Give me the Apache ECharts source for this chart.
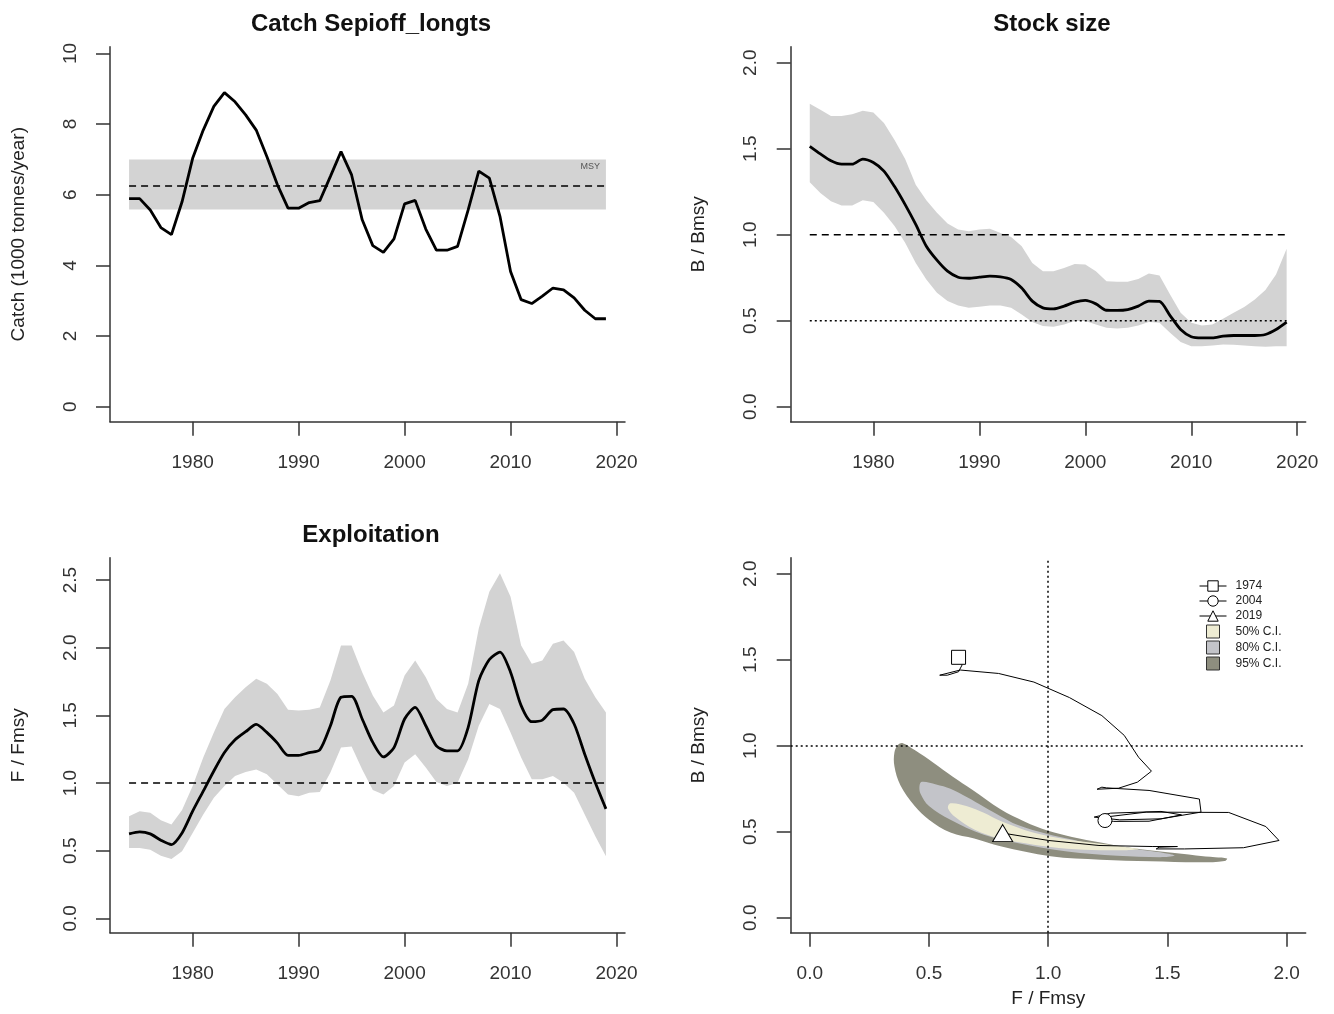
<!DOCTYPE html>
<html><head><meta charset="utf-8">
<script src="https://cdn.jsdelivr.net/npm/echarts@6/dist/echarts.min.js"></script>
<style>html,body{margin:0;padding:0;background:#fff}#c{width:1334px;height:1014px}</style>
</head><body><div id="c"></div>
<script>
const years = [1974,1975,1976,1977,1978,1979,1980,1981,1982,1983,1984,1985,1986,1987,1988,1989,1990,1991,1992,1993,1994,1995,1996,1997,1998,1999,2000,2001,2002,2003,2004,2005,2006,2007,2008,2009,2010,2011,2012,2013,2014,2015,2016,2017,2018,2019];
const catchK = [5.89,5.89,5.57,5.07,4.87,5.80,7.03,7.83,8.50,8.89, 8.63,8.26,7.83,7.08,6.28,5.62,5.62,5.78,5.83,6.52, 7.22,6.56,5.29,4.56,4.37,4.75,5.74,5.84,5.03,4.43, 4.43,4.54,5.57,6.67,6.47,5.39,3.83,3.03,2.92,3.13, 3.36,3.31,3.08,2.73,2.49,2.49];
const msy = 6.25, msyLow = 5.58, msyHigh = 7.0;
const bBmsy = [1.514,1.47,1.43,1.41,1.41,1.44,1.42,1.37,1.28,1.175, 1.06,0.933,0.852,0.788,0.753,0.747,0.753,0.759,0.755,0.74, 0.69,0.614,0.575,0.569,0.585,0.608,0.618,0.598,0.561,0.56, 0.565,0.585,0.614,0.612,0.53,0.449,0.407,0.40,0.40,0.41, 0.414,0.414,0.414,0.42,0.449,0.492];
const bHigh = [1.762,1.727,1.69,1.69,1.70,1.72,1.71,1.65,1.55,1.44, 1.29,1.20,1.127,1.065,1.03,1.02,1.03,1.034,1.01,0.987, 0.933,0.836,0.788,0.788,0.807,0.83,0.827,0.788,0.73,0.726, 0.726,0.743,0.774,0.763,0.652,0.546,0.488,0.472,0.478,0.511, 0.546,0.58,0.623,0.678,0.769,0.918];
const bLow = [1.305,1.243,1.195,1.17,1.17,1.20,1.19,1.127,1.05,0.953, 0.836,0.74,0.662,0.614,0.589,0.575,0.581,0.589,0.589,0.575, 0.536,0.492,0.469,0.465,0.478,0.498,0.498,0.478,0.459,0.455, 0.459,0.472,0.492,0.488,0.43,0.376,0.352,0.352,0.356,0.362, 0.36,0.356,0.352,0.348,0.352,0.352];
const fFmsy = [0.624,0.639,0.624,0.577,0.545,0.631,0.792,0.94,1.089,1.225, 1.319,1.379,1.433,1.374,1.295,1.205,1.205,1.225,1.245,1.423, 1.634,1.641,1.473,1.30,1.193,1.262,1.473,1.559,1.423,1.275, 1.238,1.238,1.411,1.757,1.913,1.968,1.819,1.572,1.453,1.465, 1.542,1.547,1.436,1.213,1.002,0.809];
const fHigh = [0.755,0.792,0.78,0.725,0.693,0.80,0.978,1.188,1.374,1.547, 1.634,1.708,1.77,1.733,1.658,1.542,1.535,1.542,1.559,1.757, 2.017,2.017,1.819,1.646,1.522,1.572,1.795,1.906,1.782,1.621, 1.547,1.522,1.733,2.141,2.413,2.55,2.376,2.017,1.881,1.906, 2.03,2.054,1.968,1.77,1.634,1.522];
const fLow = [0.52,0.52,0.507,0.463,0.438,0.495,0.631,0.767,0.891,0.978, 1.052,1.082,1.10,1.064,0.99,0.916,0.903,0.928,0.933,1.077, 1.262,1.27,1.10,0.948,0.916,0.978,1.151,1.213,1.114,1.007, 0.978,1.002,1.176,1.423,1.584,1.547,1.374,1.188,1.027,1.027, 1.052,1.002,0.928,0.767,0.606,0.458];
const refB = 1.0, refBlim = 0.5, refF = 1.0;
const markerYears = [1974, 2004, 2019];
const ci95F = [0.39,0.44,0.52,0.60,0.68,0.80,0.90,1.00,1.10,1.22,1.35,1.50,1.62,1.70,1.75,1.74,1.64,1.43,1.22,1.01,0.80,0.69,0.59,0.50,0.44,0.38,0.355,0.355,0.37];
const ci95B = [1.015,0.975,0.90,0.82,0.745,0.63,0.56,0.505,0.47,0.437,0.405,0.38,0.362,0.352,0.345,0.33,0.322,0.328,0.337,0.357,0.415,0.46,0.495,0.57,0.65,0.77,0.88,0.96,1.005];
const ci80F = [0.47,0.53,0.59,0.66,0.73,0.80,0.87,1.00,1.10,1.22,1.43,1.51,1.53,1.47,1.29,1.08,0.87,0.73,0.59,0.50,0.465,0.46];
const ci80B = [0.79,0.775,0.75,0.70,0.645,0.59,0.54,0.485,0.455,0.418,0.388,0.37,0.36,0.352,0.36,0.385,0.435,0.483,0.57,0.65,0.72,0.765];
const ci50F = [0.59,0.66,0.73,0.80,0.94,1.08,1.22,1.33,1.38,1.32,1.22,1.08,0.94,0.80,0.69,0.61,0.58];
const ci50B = [0.665,0.648,0.61,0.562,0.494,0.455,0.43,0.41,0.40,0.393,0.393,0.401,0.425,0.459,0.513,0.585,0.635];
const yearTicks = [1980,1990,2000,2010,2020];
const catchTicks = [0,2,4,6,8,10];
const ratioTicks = [0,0.5,1,1.5,2];
const fTicks = [0,0.5,1,1.5,2,2.5];
const kobeTicks = [0,0.5,1,1.5,2];

const FONT = "'Liberation Sans', Arial, Helvetica, sans-serif";
const AX = '#333';
const one = v => v.toFixed(1);

function xAx(gi, min, max, ticks, fmt, name) {
  return {type:'value', gridIndex:gi, min, max, name: name || '', nameLocation:'middle', nameGap:57,
    nameTextStyle:{fontSize:19, color:'#222', fontFamily:FONT},
    axisLine:{show:true, onZero:false, lineStyle:{color:AX, width:1.5}},
    axisTick:{show:true, inside:false, length:14, customValues:ticks, lineStyle:{color:AX, width:1.5}},
    axisLabel:{show:true, margin:32, fontSize:19, color:'#333', fontFamily:FONT, customValues:ticks, formatter:fmt},
    splitLine:{show:false}};
}
function yAx(gi, min, max, ticks, fmt, name) {
  return {type:'value', gridIndex:gi, min, max, name, nameLocation:'middle', nameGap:82, nameRotate:90,
    nameTextStyle:{fontSize:19, color:'#222', fontFamily:FONT},
    axisLine:{show:true, onZero:false, lineStyle:{color:AX, width:1.5}},
    axisTick:{show:true, inside:false, length:14, customValues:ticks, lineStyle:{color:AX, width:1.5}},
    axisLabel:{show:true, rotate:90, margin:30, fontSize:19, color:'#333', fontFamily:FONT, customValues:ticks, formatter:fmt},
    splitLine:{show:false}};
}
function bandRender(xs, lo, hi) {
  return function(params, api) {
    if (params.dataIndex !== 0) return null;
    const pts = [];
    for (let i = 0; i < xs.length; i++) pts.push(api.coord([xs[i], hi[i]]));
    for (let i = xs.length - 1; i >= 0; i--) pts.push(api.coord([xs[i], lo[i]]));
    return {type:'polygon', shape:{points:pts}, style:{fill:'#d3d3d3'}};
  };
}
function contourRender(fs, bs, col) {
  return function(params, api) {
    if (params.dataIndex !== 0) return null;
    const pts = fs.map((f, i) => api.coord([f, bs[i]]));
    return {type:'polygon', shape:{points:pts, smooth:0.35}, style:{fill:col}};
  };
}
const pair = (xs, ys) => xs.map((x, i) => [x, ys[i]]);
const C95 = '#8e8e7f', C80 = '#c3c4c9', C50 = '#eeecd3';
const last = years.length - 1;
const mIdx = markerYears.map(y => years.indexOf(y));
const sqIcon = 'path://M0,0L10,0L10,10L0,10Z';
const TITLE = {fontSize:24, fontWeight:'bold', color:'#111', fontFamily:FONT};

const option = {
  animation:false,
  backgroundColor:'#fff',
  textStyle:{fontFamily:FONT},
  title:[
    {text:'Catch Sepioff_longts', left:366, top:7, textAlign:'center', textStyle:TITLE},
    {text:'Stock size', left:1047, top:7, textAlign:'center', textStyle:TITLE},
    {text:'Exploitation', left:366, top:518, textAlign:'center', textStyle:TITLE}
  ],
  legend:{
    orient:'vertical', left:1199, top:579.5, padding:0, itemWidth:27, itemHeight:13, itemGap:2, selectedMode:false,
    textStyle:{fontSize:12, color:'#222', fontFamily:FONT, lineHeight:13, padding:[0,0,0,4]},
    data:[
      {name:'1974', itemStyle:{color:'#fff', borderColor:'#000', borderWidth:1}, lineStyle:{color:'#000', width:1}},
      {name:'2004', itemStyle:{color:'#fff', borderColor:'#000', borderWidth:1}, lineStyle:{color:'#000', width:1}},
      {name:'2019', itemStyle:{color:'#fff', borderColor:'#000', borderWidth:1}, lineStyle:{color:'#000', width:1}},
      {name:'50% C.I.', icon:sqIcon, itemStyle:{color:C50, borderColor:'#333', borderWidth:1}},
      {name:'80% C.I.', icon:sqIcon, itemStyle:{color:C80, borderColor:'#333', borderWidth:1}},
      {name:'95% C.I.', icon:sqIcon, itemStyle:{color:C95, borderColor:'#333', borderWidth:1}}
    ]
  },
  grid:[
    {left:110, top:46.7, width:515, height:375},
    {left:790.7, top:46.7, width:515, height:375},
    {left:110, top:557.7, width:515, height:375},
    {left:790.7, top:557.7, width:515, height:375}
  ],
  xAxis:[
    xAx(0, 1972.2, 2020.8, yearTicks, v => String(v)),
    xAx(1, 1972.2, 2020.8, yearTicks, v => String(v)),
    xAx(2, 1972.2, 2020.8, yearTicks, v => String(v)),
    xAx(3, -0.08, 2.08, kobeTicks, one, 'F / Fmsy')
  ],
  yAxis:[
    yAx(0, -0.424, 10.19, catchTicks, v => String(v), 'Catch (1000 tonnes/year)'),
    yAx(1, -0.087, 2.093, ratioTicks, one, 'B / Bmsy'),
    yAx(2, -0.106, 2.665, fTicks, one, 'F / Fmsy'),
    yAx(3, -0.087, 2.093, kobeTicks, one, 'B / Bmsy')
  ],
  series:[
    {type:'custom', name:'MSY band', xAxisIndex:0, yAxisIndex:0, silent:true,
      renderItem:function(params, api){
        if (params.dataIndex !== 0) return null;
        const p1 = api.coord([years[0], msyHigh]);
        const p2 = api.coord([years[last], msyLow]);
        return {type:'group', children:[
          {type:'rect', shape:{x:p1[0], y:p1[1], width:p2[0]-p1[0], height:p2[1]-p1[1]}, style:{fill:'#d3d3d3'}},
          {type:'text', x:p2[0]-6, y:p1[1]+3, style:{text:'MSY', fontSize:9, fill:'#555', align:'right', verticalAlign:'top', fontFamily:FONT}}
        ]};
      },
      data:[[years[0], msyLow],[years[last], msyHigh]]},
    {type:'line', name:'MSY', xAxisIndex:0, yAxisIndex:0, symbol:'none', silent:true,
      data:[[years[0], msy],[years[last], msy]], lineStyle:{color:'#000', width:1.5, type:[7,5]}},
    {type:'line', name:'Catch', xAxisIndex:0, yAxisIndex:0, symbol:'none',
      data:pair(years, catchK), lineStyle:{color:'#000', width:2.8}},

    {type:'custom', name:'B CI', xAxisIndex:1, yAxisIndex:1, silent:true,
      renderItem:bandRender(years, bLow, bHigh), data:pair(years, bHigh)},
    {type:'line', name:'Bref', xAxisIndex:1, yAxisIndex:1, symbol:'none', silent:true,
      data:[[years[0], refB],[years[last], refB]], lineStyle:{color:'#000', width:1.5, type:[7,5]}},
    {type:'line', name:'Blim', xAxisIndex:1, yAxisIndex:1, symbol:'none', silent:true,
      data:[[years[0], refBlim],[years[last], refBlim]], lineStyle:{color:'#000', width:1.5, type:[2,3]}},
    {type:'line', name:'B/Bmsy', xAxisIndex:1, yAxisIndex:1, symbol:'none', smooth:0.25,
      data:pair(years, bBmsy), lineStyle:{color:'#000', width:2.8}},

    {type:'custom', name:'F CI', xAxisIndex:2, yAxisIndex:2, silent:true,
      renderItem:bandRender(years, fLow, fHigh), data:pair(years, fHigh)},
    {type:'line', name:'Fref', xAxisIndex:2, yAxisIndex:2, symbol:'none', silent:true,
      data:[[years[0], refF],[years[last], refF]], lineStyle:{color:'#000', width:1.5, type:[7,5]}},
    {type:'line', name:'F/Fmsy', xAxisIndex:2, yAxisIndex:2, symbol:'none', smooth:0.25,
      data:pair(years, fFmsy), lineStyle:{color:'#000', width:2.8}},

    {type:'custom', name:'95% C.I.', xAxisIndex:3, yAxisIndex:3, silent:true, itemStyle:{color:C95},
      renderItem:contourRender(ci95F, ci95B, C95), data:pair(ci95F, ci95B)},
    {type:'custom', name:'80% C.I.', xAxisIndex:3, yAxisIndex:3, silent:true, itemStyle:{color:C80},
      renderItem:contourRender(ci80F, ci80B, C80), data:pair(ci80F, ci80B)},
    {type:'custom', name:'50% C.I.', xAxisIndex:3, yAxisIndex:3, silent:true, itemStyle:{color:C50},
      renderItem:contourRender(ci50F, ci50B, C50), data:pair(ci50F, ci50B)},
    {type:'line', name:'Trajectory', xAxisIndex:3, yAxisIndex:3, symbol:'none',
      data:pair(fFmsy, bBmsy), lineStyle:{color:'#000', width:1},
      markLine:{silent:true, symbol:'none', label:{show:false},
        lineStyle:{color:'#000', width:1.5, type:[2,3]},
        data:[{xAxis:refF},{yAxis:refB}]}},
    {type:'line', name:'1974', xAxisIndex:3, yAxisIndex:3, symbol:'rect', symbolSize:14,
      data:[[fFmsy[mIdx[0]], bBmsy[mIdx[0]]]], itemStyle:{color:'#fff', borderColor:'#000', borderWidth:1}, lineStyle:{color:'#000', width:1}},
    {type:'line', name:'2004', xAxisIndex:3, yAxisIndex:3, symbol:'circle', symbolSize:14,
      data:[[fFmsy[mIdx[1]], bBmsy[mIdx[1]]]], itemStyle:{color:'#fff', borderColor:'#000', borderWidth:1}, lineStyle:{color:'#000', width:1}},
    {type:'line', name:'2019', xAxisIndex:3, yAxisIndex:3, symbol:'triangle', symbolSize:[20,17],
      data:[[fFmsy[mIdx[2]], bBmsy[mIdx[2]]]], itemStyle:{color:'#fff', borderColor:'#000', borderWidth:1}, lineStyle:{color:'#000', width:1}}
  ]
};
const chart = echarts.init(document.getElementById('c'), null, {renderer:'canvas'});
chart.setOption(option);
</script></body></html>
